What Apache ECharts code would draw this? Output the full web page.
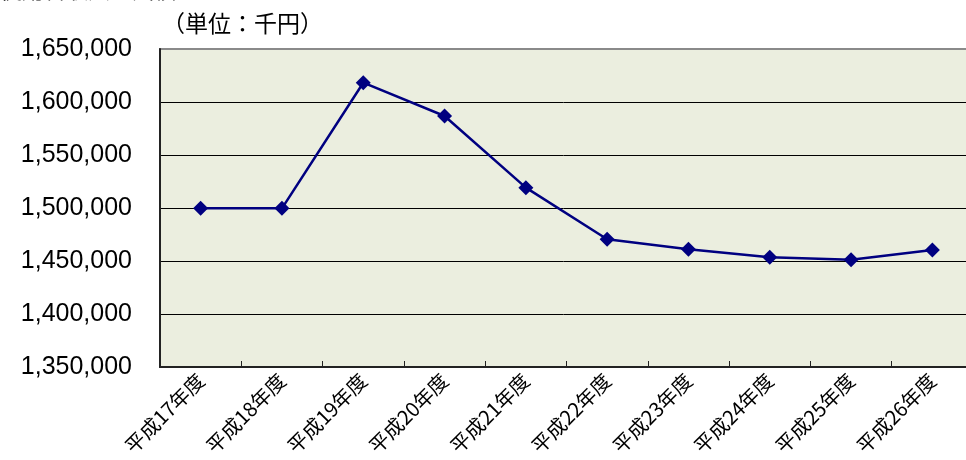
<!DOCTYPE html>
<html><head><meta charset="utf-8">
<script src="https://cdn.jsdelivr.net/npm/echarts@6/dist/echarts.min.js"></script>
<style>html,body{margin:0;padding:0;background:#fff;}#c{width:966px;height:460px;}</style>
</head><body><div id="c"></div>
<script>
const categories = ['平成17年度','平成18年度','平成19年度','平成20年度','平成21年度','平成22年度','平成23年度','平成24年度','平成25年度','平成26年度'];
const values = [1499700, 1499700, 1618200, 1586800, 1519200, 1470500, 1461000, 1453500, 1451200, 1460400];
const yMin = 1350000, yMax = 1650000, yStep = 50000;
const unitLabel = '（単位：千円）';
const topTitle = '使用料収入の実績';

const chart = echarts.init(document.getElementById('c'));
chart.setOption({
  animation: false,
  backgroundColor: '#fff',
  graphic: [
    {type:'text', left: 0, top: -21, style:{text: topTitle, font:'22px "Noto Sans CJK JP"', fill:'#000'}},
    {type:'text', left: 162, top: 12, style:{text: unitLabel, font:'23px "Noto Sans CJK JP"', fill:'#000'}}
  ],
  grid: {left: 160, top: 49, width: 813, height: 318, containLabel: false, outerBoundsMode: 'none',
    show: true, backgroundColor: '#EBEEDF', borderColor: '#8a8a8a', borderWidth: 2},
  xAxis: {
    type: 'category', data: categories, boundaryGap: true,
    axisLine: {show: true, lineStyle: {color: '#222', width: 2}},
    axisTick: {show: true, inside: true, length: 6, lineStyle: {color: '#222', width: 1}},
    axisLabel: {rotate: 45, margin: 10, fontSize: 20, color: '#000', fontFamily: '"Noto Sans CJK JP"', interval: 0}
  },
  yAxis: {
    type: 'value', min: yMin, max: yMax, interval: yStep,
    axisLine: {show: true, lineStyle: {color: '#222', width: 2}},
    axisTick: {show: false},
    splitLine: {show: true, lineStyle: {color: ['#000','#000','#000','#000','#000','#000','#8a8a8a'], width: 1}},
    axisLabel: {margin: 28, fontSize: 25, color: '#000', fontFamily: '"Liberation Sans", Arial',
      formatter: v => v.toLocaleString('en-US')}
  },
  series: [{
    type: 'line', data: values,
    lineStyle: {color: '#000080', width: 2.5},
    itemStyle: {color: '#000080'},
    symbol: 'diamond', symbolSize: 15, showSymbol: true
  }]
});
</script></body></html>
